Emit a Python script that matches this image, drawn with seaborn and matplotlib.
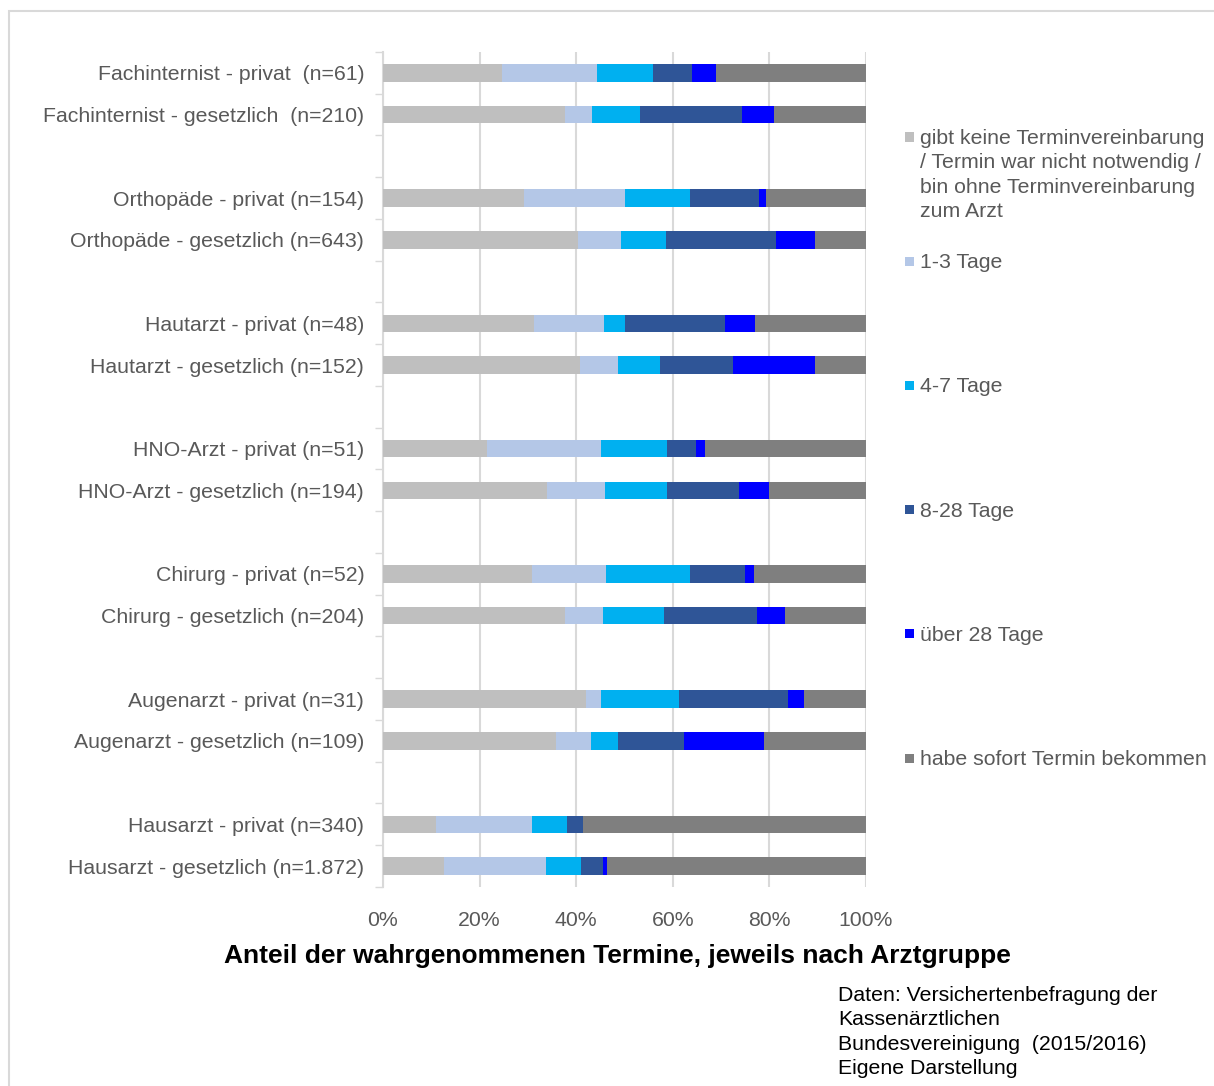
import numpy as np
import pandas as pd
import matplotlib
matplotlib.use("Agg")
import matplotlib.pyplot as plt
from matplotlib.patches import Rectangle
import seaborn as sns

# Doctor groups, top to bottom
groups = [
    "Fachinternist - privat  (n=61)",
    "Fachinternist - gesetzlich  (n=210)",
    "Orthopäde - privat (n=154)",
    "Orthopäde - gesetzlich (n=643)",
    "Hautarzt - privat (n=48)",
    "Hautarzt - gesetzlich (n=152)",
    "HNO-Arzt - privat (n=51)",
    "HNO-Arzt - gesetzlich (n=194)",
    "Chirurg - privat (n=52)",
    "Chirurg - gesetzlich (n=204)",
    "Augenarzt - privat (n=31)",
    "Augenarzt - gesetzlich (n=109)",
    "Hausarzt - privat (n=340)",
    "Hausarzt - gesetzlich (n=1.872)",
]

# Waiting-time categories (stack order, left to right)
categories = [
    "gibt keine Terminvereinbarung\n/ Termin war nicht notwendig /\nbin ohne Terminvereinbarung\nzum Arzt",
    "1-3 Tage",
    "4-7 Tage",
    "8-28 Tage",
    "über 28 Tage",
    "habe sofort Termin bekommen",
]

# Shares in percent per category
keine_termin = [24.6, 37.6, 29.2, 40.3, 31.2, 40.8, 21.6, 34.0, 30.8, 37.7, 41.9, 35.8, 10.9, 12.6]
tage_1_3     = [19.7,  5.7, 20.8,  9.0, 14.6,  7.9, 23.5, 11.9, 15.4,  7.8,  3.2,  7.3, 20.0, 21.2]
tage_4_7     = [11.5, 10.0, 13.6,  9.3,  4.2,  8.6, 13.7, 12.9, 17.3, 12.7, 16.1,  5.5,  7.1,  7.2]
tage_8_28    = [ 8.2, 21.0, 14.3, 22.7, 20.8, 15.1,  5.9, 14.9, 11.5, 19.1, 22.6, 13.8,  3.5,  4.6]
ueber_28     = [ 4.9,  6.7,  1.3,  8.1,  6.3, 17.1,  2.0,  6.2,  1.9,  5.9,  3.2, 16.5,  0.0,  0.8]
sofort       = [31.1, 19.0, 20.8, 10.6, 22.9, 10.5, 33.3, 20.1, 23.1, 16.7, 12.9, 21.1, 58.5, 53.7]

xticks = [0, 20, 40, 60, 80, 100]
xticklabels = ["0%", "20%", "40%", "60%", "80%", "100%"]

colors = ["#BFBFBF", "#B4C7E7", "#00B0F0", "#2F5597", "#0000FF", "#7F7F7F"]

title = "Anteil der wahrgenommenen Termine, jeweils nach Arztgruppe"
source = ("Daten: Versichertenbefragung der\nKassenärztlichen\n"
          "Bundesvereinigung  (2015/2016)\nEigene Darstellung")

series = [keine_termin, tage_1_3, tage_4_7, tage_8_28, ueber_28, sofort]
values = np.array(series)
cum = np.cumsum(values, axis=0)
cum = cum / cum[-1] * 100.0

# Pairs of bars with an empty slot between each pair
slots = np.array([i + i // 2 for i in range(len(groups))], dtype=float)
n_slots = int(slots.max()) + 1

sns.set_theme(style="white")
plt.rcParams["font.family"] = ["Liberation Sans", "DejaVu Sans"]

FS = 15.3
W, H = 1214, 1086
fig = plt.figure(figsize=(W / 100, H / 100), dpi=100)
ax = fig.add_axes([383 / W, 1 - 887 / H, (866 - 383) / W, (887 - 52) / H])

# Stacked bars: draw cumulative totals from the full bar down
for k in range(len(series) - 1, -1, -1):
    df = pd.DataFrame({"wert": cum[k], "pos": slots})
    sns.barplot(data=df, x="wert", y="pos", orient="h", native_scale=True,
                color=colors[k], width=0.42, saturation=1, ax=ax,
                edgecolor="none", linewidth=0, zorder=3)

ax.set_xlim(0, 100)
ax.set_ylim(n_slots - 0.5, -0.5)
ax.set_xticks(xticks)
ax.set_xticklabels(xticklabels, color="#595959", fontsize=FS)
ax.set_yticks(slots)
ax.set_yticklabels(groups, color="#595959", fontsize=FS)
ax.set_yticks(np.arange(-0.5, n_slots, 1.0), minor=True)
ax.tick_params(axis="y", which="major", length=0, pad=13.5)
ax.tick_params(axis="y", which="minor", length=6, width=1, color="#D9D9D9", left=True)
ax.tick_params(axis="x", length=0, pad=17.5)
ax.set_xlabel("")
ax.set_ylabel("")
ax.grid(axis="x", color="#D9D9D9", linewidth=1.5, zorder=0)
ax.set_axisbelow(True)
for s in ["top", "right", "bottom"]:
    ax.spines[s].set_visible(False)
ax.spines["left"].set_color("#D9D9D9")
ax.spines["left"].set_linewidth(1.5)

# Legend entries on the right
for k, (lab, col) in enumerate(zip(categories, colors)):
    yc = 137 + 124.2 * k
    fig.patches.append(Rectangle((905 / W, 1 - (yc + 4.5) / H), 9 / W, 9 / H,
                                 transform=fig.transFigure, facecolor=col,
                                 edgecolor="none"))
    fig.text(920 / W, 1 - (yc - 8) / H, lab, ha="left", va="top",
             fontsize=FS, color="#595959", linespacing=1.36)

fig.text(617 / W, 1 - 955.5 / H, title, ha="center", va="center",
         fontsize=19, fontweight="bold", color="black")
fig.text(838 / W, 1 - 986 / H, source, ha="left", va="top",
         fontsize=FS, color="black", linespacing=1.36)

# Outer frame
fig.patches.append(Rectangle((9 / W, -0.1), 1.2, 1 - 11 / H + 0.1,
                             transform=fig.transFigure, fill=False,
                             edgecolor="#D9D9D9", linewidth=1.5))

fig.savefig("out.png", dpi=100, facecolor="white")
